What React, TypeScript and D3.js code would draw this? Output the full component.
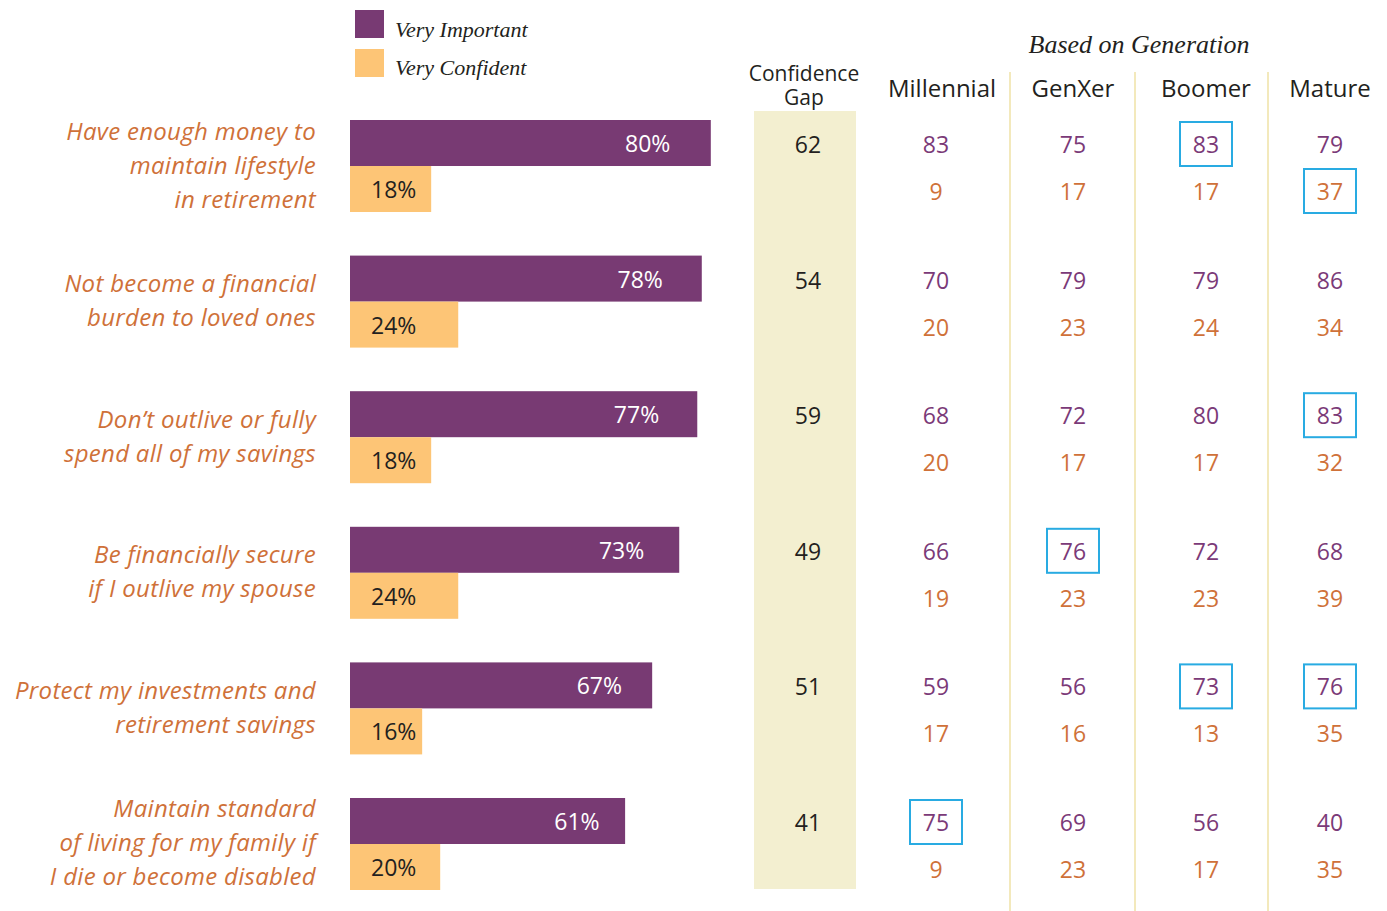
import React from "react";
import * as d3 from "d3";

const categories: string[][] = [
  ["Have enough money to", "maintain lifestyle", "in retirement"],
  ["Not become a financial", "burden to loved ones"],
  ["Don\u2019t outlive or fully", "spend all of my savings"],
  ["Be financially secure", "if I outlive my spouse"],
  ["Protect my investments and", "retirement savings"],
  ["Maintain standard", "of living for my family if", "I die or become disabled"],
];
const veryImportant = [80, 78, 77, 73, 67, 61];
const veryConfident = [18, 24, 18, 24, 16, 20];
const confidenceGap = [62, 54, 59, 49, 51, 41];

const generations = ["Millennial", "GenXer", "Boomer", "Mature"];
const millennialImp = [83, 70, 68, 66, 59, 75];
const millennialConf = [9, 20, 20, 19, 17, 9];
const genxerImp = [75, 79, 72, 76, 56, 69];
const genxerConf = [17, 23, 17, 23, 16, 23];
const boomerImp = [83, 79, 80, 72, 73, 56];
const boomerConf = [17, 24, 17, 23, 13, 17];
const matureImp = [79, 86, 83, 68, 76, 40];
const matureConf = [37, 34, 32, 39, 35, 35];

// highlighted cells: [row, generation index, series]
const highlights: [number, number, "imp" | "conf"][] = [
  [0, 2, "imp"],
  [0, 3, "conf"],
  [2, 3, "imp"],
  [3, 1, "imp"],
  [4, 2, "imp"],
  [4, 3, "imp"],
  [5, 0, "imp"],
];

const legendItems = ["Very Important", "Very Confident"];

const PURPLE = "#783a73";
const ORANGE = "#fdc576";
const LABEL_ORANGE = "#cf7139";
const TXT_PURPLE = "#7b3a78";
const DARK = "#231f20";
const SANS = "'Open Sans', 'Noto Sans', sans-serif";
const SERIF = "'Liberation Serif', 'DejaVu Serif', serif";

export default function App() {
  const W = 1387;
  const H = 911;
  const x = d3.scaleLinear().domain([0, 100]).range([350, 801]);
  const rows = d3.range(categories.length);
  const y = d3.scaleBand<number>().domain(rows).range([120, 890]).paddingInner(0.3215);
  const sub = d3.scaleBand<string>().domain(["imp", "conf"]).range([0, y.bandwidth()]);

  const genX = d3.scaleOrdinal<string, number>().domain(generations).range([936, 1073, 1206, 1330]);
  const genHeaderX = d3.scaleOrdinal<string, number>().domain(generations).range([942, 1073, 1206, 1330]);
  const sepX = [1010, 1135, 1268];
  const genData: Record<string, { imp: number[]; conf: number[] }> = {
    Millennial: { imp: millennialImp, conf: millennialConf },
    GenXer: { imp: genxerImp, conf: genxerConf },
    Boomer: { imp: boomerImp, conf: boomerConf },
    Mature: { imp: matureImp, conf: matureConf },
  };
  const rowY = (i: number, s: "imp" | "conf") => (y(i) as number) + (sub(s) as number) + sub.bandwidth() / 2 + (s === "conf" ? 2 : 1);

  return (
    <svg width={W} height={H} style={{ position: "absolute", left: 0, top: 0, background: "#fff" }}>
      {/* Legend */}
      {legendItems.map((t, i) => (
        <g key={t}>
          <rect x={355} y={10 + i * 39} width={29} height={28} fill={i === 0 ? PURPLE : ORANGE} />
          <text x={395} y={29 + i * 38} dominantBaseline="central" fontFamily={SERIF} fontStyle="italic" fontSize={22} fill={DARK}>
            {t}
          </text>
        </g>
      ))}

      {/* Based on generation */}
      <text x={1139} y={44} textAnchor="middle" dominantBaseline="central" fontFamily={SERIF} fontStyle="italic" fontSize={26} fill={DARK}>
        Based on Generation
      </text>

      {/* Confidence gap column */}
      <rect x={754} y={111} width={102} height={778} fill="#f3efd0" />
      <text x={804} y={73} textAnchor="middle" dominantBaseline="central" fontFamily={SANS} fontSize={21} fill={DARK}>
        Confidence
      </text>
      <text x={804} y={97} textAnchor="middle" dominantBaseline="central" fontFamily={SANS} fontSize={21} fill={DARK}>
        Gap
      </text>
      {confidenceGap.map((v, i) => (
        <text key={i} x={808} y={rowY(i, "imp")} textAnchor="middle" dominantBaseline="central" fontFamily={SANS} fontSize={23} fill={DARK}>
          {v}
        </text>
      ))}

      {/* separators */}
      {sepX.map((sx) => (
        <line key={sx} x1={sx} x2={sx} y1={72} y2={911} stroke="#efe2a6" strokeWidth={1.5} />
      ))}

      {/* generation headers & values */}
      {generations.map((g) => (
        <g key={g}>
          <text x={genHeaderX(g)} y={87} textAnchor="middle" dominantBaseline="central" fontFamily={SANS} fontSize={24} fill={DARK}>
            {g}
          </text>
          {rows.map((i) => (
            <g key={i}>
              <text x={genX(g)} y={rowY(i, "imp")} textAnchor="middle" dominantBaseline="central" fontFamily={SANS} fontSize={23} fill={TXT_PURPLE}>
                {genData[g].imp[i]}
              </text>
              <text x={genX(g)} y={rowY(i, "conf")} textAnchor="middle" dominantBaseline="central" fontFamily={SANS} fontSize={23} fill={LABEL_ORANGE}>
                {genData[g].conf[i]}
              </text>
            </g>
          ))}
        </g>
      ))}

      {/* highlight boxes */}
      {highlights.map(([r, gi, s], k) => {
        const cx = genX(generations[gi]);
        const cy = rowY(r, s);
        return <rect key={k} x={cx - 26} y={cy - 22} width={52} height={44} fill="none" stroke="#29abe2" strokeWidth={2} />;
      })}

      {/* bars */}
      {rows.map((i) => (
        <g key={i}>
          <rect x={x(0)} y={(y(i) as number) + (sub("imp") as number)} width={x(veryImportant[i]) - x(0)} height={sub.bandwidth()} fill={PURPLE} />
          <rect x={x(0)} y={(y(i) as number) + (sub("conf") as number)} width={x(veryConfident[i]) - x(0)} height={sub.bandwidth()} fill={ORANGE} />
          <text x={x(veryImportant[i] * 0.825)} y={rowY(i, "imp") - 1} textAnchor="middle" dominantBaseline="central" fontFamily={SANS} fontSize={23} fill="#fff">
            {veryImportant[i]}%
          </text>
          <text x={x(0) + 21} y={rowY(i, "conf") - 2} dominantBaseline="central" fontFamily={SANS} fontSize={23} fill={DARK}>
            {veryConfident[i]}%
          </text>
          {categories[i].map((line, li) => {
            const n = categories[i].length;
            const cy = (y(i) as number) + y.bandwidth() / 2 - 2 + (li - (n - 1) / 2) * 34;
            return (
              <text key={li} x={316} y={cy} textAnchor="end" dominantBaseline="central" fontFamily={SANS} fontStyle="italic" fontSize={24} letterSpacing={0.3} fill={LABEL_ORANGE}>
                {line}
              </text>
            );
          })}
        </g>
      ))}
    </svg>
  );
}
